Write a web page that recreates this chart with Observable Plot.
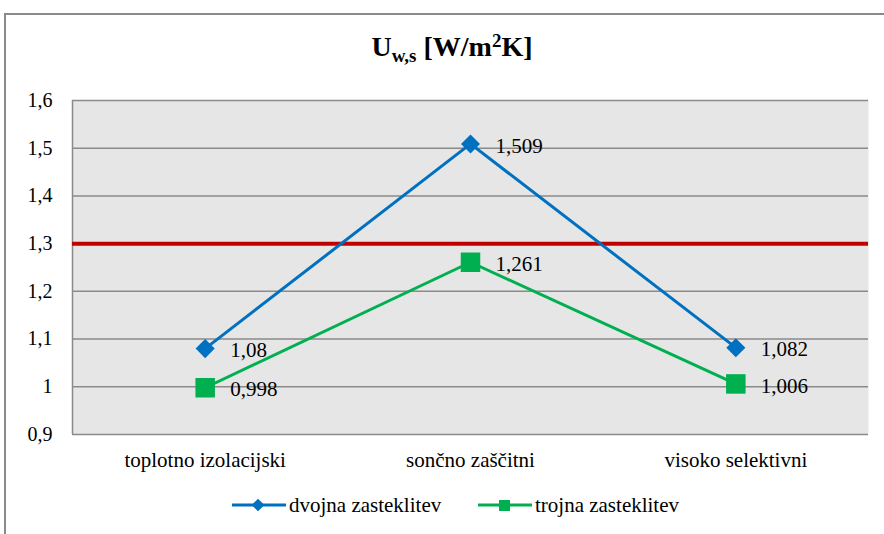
<!DOCTYPE html>
<html>
<head>
<meta charset="utf-8">
<script src="https://cdn.jsdelivr.net/npm/d3@7"></script>
<script src="https://cdn.jsdelivr.net/npm/@observablehq/plot@0.6"></script>
<style>
  html, body { margin: 0; padding: 0; background: #fff; overflow: hidden; }
  #wrap { position: relative; width: 884px; height: 534px; font-family: 'Liberation Serif', serif; }
  #frame { position: absolute; left: 4px; top: 13px; width: 920px; height: 600px; border-left: 2px solid #8a8a8a; border-top: 2px solid #8a8a8a; box-sizing: border-box; }
  #chart { position: absolute; left: 0; top: 0; }
  #title { position: absolute; left: 0; width: 904px; top: 30px; text-align: center; font-weight: bold; font-size: 28px; color: #000; font-family: 'Liberation Serif', serif; }
  #title sub { font-size: 19px; vertical-align: -6px; }
  #title sup { font-size: 19px; vertical-align: 9px; }
  #legend { position: absolute; top: 492px; left: 0; width: 884px; height: 26px; font-size: 21px; color: #000; font-family: 'Liberation Serif', serif; }
  .item { position: absolute; display: flex; align-items: center; height: 26px; }
  .item svg { margin-right: 3px; }
</style>
</head>
<body>
<div id="wrap">
  <div id="frame"></div>
  <div id="chart"></div>
  <div id="title">U<sub>w,s</sub> [W/m<sup>2</sup>K]</div>
  <div id="legend"></div>
</div>
<script>
const categories = ["toplotno izolacijski", "sončno zaščitni", "visoko selektivni"];
const dvojna = [1.08, 1.509, 1.082];
const trojna = [0.998, 1.261, 1.006];
const limitValue = 1.3;
const yTicks = [0.9, 1.0, 1.1, 1.2, 1.3, 1.4, 1.5, 1.6];
const seriesNames = ["dvojna zasteklitev", "trojna zasteklitev"];
const seriesColors = ["#0070c0", "#00b050"];

const FONT = "'Liberation Serif', serif";
const comma = d => String(+d.toFixed(3)).replace(".", ",");
const idx = categories.map((_, i) => i);
const dData = idx.map(i => ({i, v: dvojna[i]}));
const tData = idx.map(i => ({i, v: trojna[i]}));

const chart = Plot.plot({
  width: 884,
  height: 500,
  marginLeft: 72,
  marginRight: 16,
  marginTop: 100,
  marginBottom: 66,
  style: {background: "transparent", fontFamily: FONT, fontSize: "20px", color: "#000"},
  x: {type: "linear", domain: [-0.5, categories.length - 0.5], axis: null},
  y: {domain: [yTicks[0], yTicks[yTicks.length - 1]], axis: null},
  marks: [
    Plot.frame({fill: "#e6e6e6", stroke: null}),
    Plot.ruleY(yTicks, {stroke: "#8a8a8a", strokeWidth: 1.5}),
    Plot.ruleX([-0.5], {stroke: "#8a8a8a", strokeWidth: 1.5}),
    Plot.axisY(yTicks, {tickSize: 0, tickPadding: 20, tickFormat: d => String(+d.toFixed(1)).replace(".", ","), fontSize: 20, fontFamily: FONT, label: null}),
    Plot.axisX(idx, {tickSize: 0, tickPadding: 18, tickFormat: i => categories[i], fontSize: 21, fontFamily: FONT, label: null}),
    Plot.ruleY([limitValue], {stroke: "#c00000", strokeWidth: 4}),
    Plot.line(dData, {x: "i", y: "v", stroke: seriesColors[0], strokeWidth: 3}),
    Plot.line(tData, {x: "i", y: "v", stroke: seriesColors[1], strokeWidth: 3}),
    Plot.dot(dData, {x: "i", y: "v", symbol: "square", rotate: 45, r: 7.6, fill: seriesColors[0], stroke: null}),
    Plot.dot(tData, {x: "i", y: "v", symbol: "square", r: 11, fill: seriesColors[1], stroke: null}),
    Plot.text(dData, {x: "i", y: "v", text: d => comma(d.v), dx: 25, dy: 2, textAnchor: "start", fontSize: 21, fontFamily: FONT, fill: "#000"}),
    Plot.text(tData, {x: "i", y: "v", text: d => comma(d.v), dx: 25, dy: 2, textAnchor: "start", fontSize: 21, fontFamily: FONT, fill: "#000"})
  ]
});
document.getElementById("chart").appendChild(chart);

// legend
const legend = document.getElementById("legend");
const lefts = [232, 478];
seriesNames.forEach((name, k) => {
  const item = document.createElement("div");
  item.className = "item";
  item.style.left = lefts[k] + "px";
  const sym = k === 0
    ? `<rect x="21.5" y="8.5" width="9" height="9" fill="${seriesColors[k]}" transform="rotate(45 26 13)"/>`
    : `<rect x="21" y="8" width="11" height="11" fill="${seriesColors[k]}"/>`;
  item.innerHTML = `<svg width="54" height="26"><line x1="0" x2="54" y1="13" y2="13" stroke="${seriesColors[k]}" stroke-width="3"/>${sym}</svg><span>${name}</span>`;
  legend.appendChild(item);
});
</script>
</body>
</html>
